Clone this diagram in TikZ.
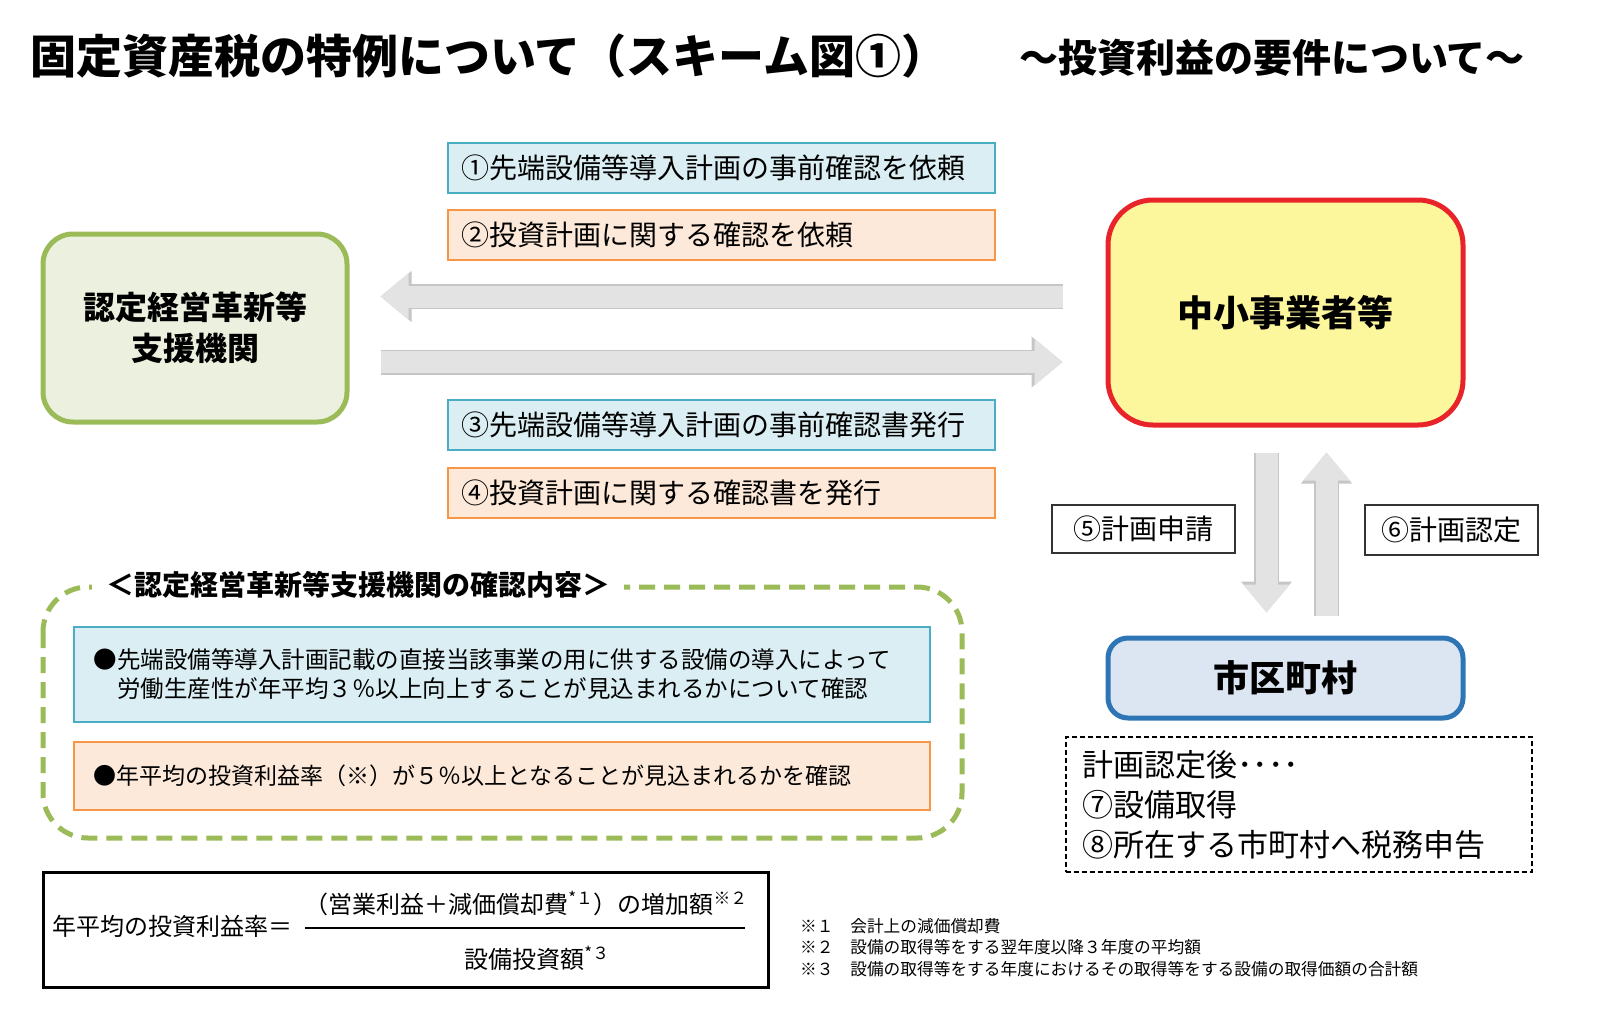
\documentclass[tikz,border=0pt]{standalone}
\usepackage{fontspec}
\setmainfont{Noto Sans CJK JP}
\usetikzlibrary{arrows.meta}
\definecolor{bluefill}{HTML}{DAEEF3}
\definecolor{blueline}{HTML}{4BACC6}
\definecolor{orafill}{HTML}{FDE9D9}
\definecolor{oraline}{HTML}{F79646}
\definecolor{grnfill}{HTML}{EBF1DE}
\definecolor{grnline}{HTML}{9BBB59}
\definecolor{yelfill}{HTML}{FCF69C}
\definecolor{redline}{HTML}{E8242A}
\definecolor{cityfill}{HTML}{DCE6F2}
\definecolor{cityline}{HTML}{2E75B6}
\newcommand{\fsz}[2]{\fontsize{#1}{#2}\selectfont}

\begin{document}
\begin{tikzpicture}[x=1pt,y=-1pt,
blu/.style={%
draw=blueline,
fill=bluefill,
line width=1.6pt,
minimum height=50pt,
text width=521pt,
inner xsep=13pt,
align=left,
font=\fsz{28}{35}
},
ora/.style={%
blu,
draw=oraline,
fill=orafill
},
org/.style={%
rounded corners=30pt,
line width=5pt,
align=center,
font=\bfseries\fsz{32}{41}
},
lbl/.style={%
draw=black!80,
line width=1.2pt,
fill=white,
font=\fsz{28}{35}
},
bigarr/.style={%
line width=25pt,
draw=gray!45,
-{Triangle[length=31pt,width=49pt]},
postaction={draw=gray!22,line width=22pt,-{Triangle[length=28pt,width=45pt]}}
},
note/.style={%
anchor=west,
inner sep=0pt,
font=\fsz{16.7}{20}
},
]
\useasboundingbox(0,0)rectangle(1600,1028);
%% Title
\node[anchor=west,inner sep=0pt,font=\bfseries\fsz{46}{50}]at(30,56)(title){固定資産税の特例について（スキーム図①）};
\node[inner sep=0pt,font=\bfseries\fsz{39}{45}]at(1272,58)(subtitle){～投資利益の要件について～};
%% Organisations
\node[org,draw=grnline,fill=grnfill,minimum width=304pt,minimum height=188pt]at(195,328)(sien){認定経営革新等\\支援機関};
\node[org,draw=redline,fill=yelfill,rounded corners=45pt,minimum width=355pt,minimum height=225pt,font=\bfseries\fsz{36}{42}]at(1285.5,312.5)(chusho){中小事業者等};
\node[org,draw=cityline,fill=cityfill,rounded corners=20pt,minimum width=355pt,minimum height=80pt,font=\bfseries\fsz{36}{42}]at(1285.5,678)(shiku){市区町村};
%% Steps
\node[blu]at(721.5,168)(s1){①先端設備等導入計画の事前確認を依頼};
\node[ora]at(721.5,235)(s2){②投資計画に関する確認を依頼};
\node[blu]at(721.5,425)(s3){③先端設備等導入計画の事前確認書発行};
\node[ora]at(721.5,493)(s4){④投資計画に関する確認書を発行};
\node[lbl,minimum width=183pt,minimum height=48pt]at(1143.5,529)(s5){⑤計画申請};
\node[lbl,minimum width=173pt,minimum height=50pt]at(1451.5,530)(s6){⑥計画認定};
%% Arrows
\coordinate(r1)at(0,296.5);
\coordinate(r2)at(0,362);
\coordinate(c1)at(1266.5,0);
\coordinate(c2)at(1326.5,0);
\draw[bigarr,shorten <=43pt,shorten >=31pt](chusho.west|-r1)--(sien.east|-r1);
\draw[bigarr,shorten <=31pt,shorten >=43pt](sien.east|-r2)--(chusho.west|-r2);
\draw[bigarr,shorten <=25pt,shorten >=23pt](chusho.south-|c1)--(shiku.north-|c1);
\draw[bigarr,shorten <=20pt,shorten >=25pt](shiku.north-|c2)--(chusho.south-|c2);
%% After approval
\node[draw,line width=1.2pt,dash pattern=on 5pt off 3pt,minimum height=135pt,text width=434pt,inner xsep=16pt,align=left,font=\fsz{31}{40}]at(1299,804.5)(after){計画認定後････\\⑦設備取得\\⑧所在する市町村へ税務申告};
%% Check contents
\draw[grnline,line width=5pt,dash pattern=on 16pt off 9pt,rounded corners=45pt](43,587)rectangle(962,838);
\node[fill=white,inner xsep=14pt,inner ysep=2pt,font=\bfseries\fsz{28}{34}]at(358,585)(chk){＜認定経営革新等支援機関の確認内容＞};
\node[blu,text width=817pt,inner xsep=19.5pt,minimum height=95pt,font=\fsz{23.5}{29}]at(502,674.5)(k1){●先端設備等導入計画記載の直接当該事業の用に供する設備の導入によって\\\phantom{●}労働生産性が年平均３％以上向上することが見込まれるかについて確認};
\node[ora,text width=817pt,inner xsep=19.5pt,minimum height=68pt,font=\fsz{23}{28}]at(502,776)(k2){●年平均の投資利益率（※）が５％以上となることが見込まれるかを確認};
%% Formula
\node[draw,line width=3pt,minimum width=725pt,minimum height=115pt]at(405.5,929.5)(frm){};
\node[anchor=west,inner sep=0pt,font=\fsz{24}{30}]at(52,926)(lhs){年平均の投資利益率＝};
\draw[line width=2.5pt](305,928)--(745,928);
\node[inner sep=0pt,font=\fsz{24}{30}]at(526,903)(num){（営業利益＋減価償却費\textsuperscript{*１}）の増加額\textsuperscript{※２}};
\node[inner sep=0pt,font=\fsz{24}{30}]at(537,958)(den){設備投資額\textsuperscript{*３}};
%% Notes
\node[note]at(800,926)(n1){※１　会計上の減価償却費};
\node[note]at(800,947)(n2){※２　設備の取得等をする翌年度以降３年度の平均額};
\node[note]at(800,969)(n3){※３　設備の取得等をする年度におけるその取得等をする設備の取得価額の合計額};
\end{tikzpicture}
\end{document}
